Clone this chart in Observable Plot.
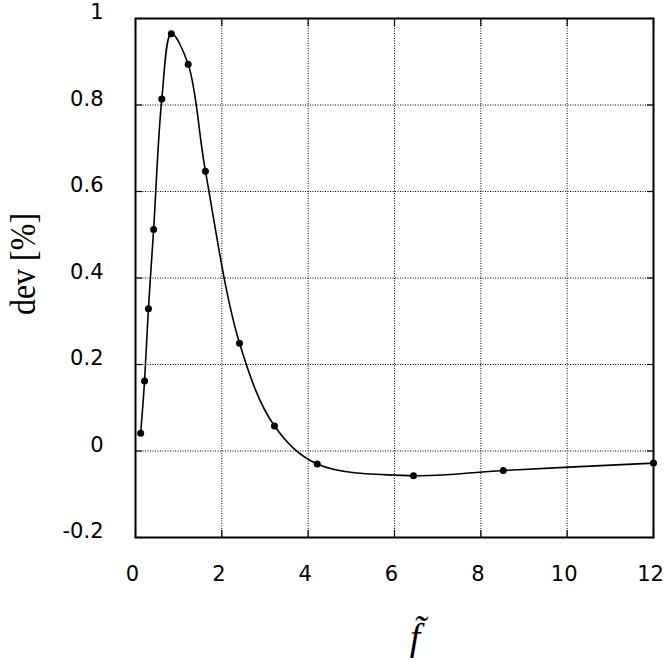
<!DOCTYPE html>
<html>
<head>
<meta charset="utf-8">
<script src="https://cdn.jsdelivr.net/npm/d3@7"></script>
<script src="https://cdn.jsdelivr.net/npm/@observablehq/plot@0.6"></script>
<style>
  html, body { margin: 0; padding: 0; background: #fff; }
  #chart { width: 664px; height: 660px; }
</style>
</head>
<body>
<div id="chart"></div>
<script>
// Data
const fVals   = [0.12, 0.21, 0.30, 0.42, 0.61, 0.83, 1.22, 1.62, 2.41, 3.22, 4.21, 6.44, 8.52, 12.0];
const devVals = [0.041, 0.162, 0.329, 0.512, 0.814, 0.965, 0.894, 0.647, 0.249, 0.058, -0.030, -0.057, -0.045, -0.028];
const xTicks = [0, 2, 4, 6, 8, 10, 12];
const yTicks = [-0.2, 0, 0.2, 0.4, 0.6, 0.8, 1];
const xGrid = [2, 4, 6, 8, 10];
const yGrid = [0, 0.2, 0.4, 0.6, 0.8];
const xLabel = "f\u0303";
const yLabel = "dev [%]";

const data = fVals.map((f, i) => ({f, dev: devVals[i]}));

const chart = Plot.plot({
  width: 664,
  height: 660,
  marginLeft: 135,
  marginRight: 11,
  marginTop: 18,
  marginBottom: 123,
  style: {fontFamily: "'DejaVu Sans', 'Liberation Sans', sans-serif", fontSize: "21px", color: "#000", background: "#fff"},
  x: {domain: [0, 12]},
  y: {domain: [-0.2, 1]},
  marks: [
    Plot.ruleX(xGrid, {stroke: "#000", strokeWidth: 1, strokeDasharray: "1,1.5"}),
    Plot.ruleY(yGrid, {stroke: "#000", strokeWidth: 1, strokeDasharray: "1,1.5"}),
    Plot.axisX({ticks: xTicks, tickSize: 0, tickPadding: 29, dx: -3, tickFormat: d => String(d), label: null}),
    Plot.axisY({ticks: yTicks, tickSize: 0, tickPadding: 32, dy: -6, tickFormat: d => String(d), label: null}),
    Plot.axisX({ticks: xTicks, anchor: "bottom", tickSize: -7, text: null, label: null, strokeWidth: 1.2}),
    Plot.axisX({ticks: xTicks, anchor: "top", tickSize: -7, text: null, label: null, strokeWidth: 1.2}),
    Plot.axisY({ticks: yTicks, anchor: "left", tickSize: -7, text: null, label: null, strokeWidth: 1.2}),
    Plot.axisY({ticks: yTicks, anchor: "right", tickSize: -7, text: null, label: null, strokeWidth: 1.2}),
    Plot.frame({stroke: "#000", strokeWidth: 2}),
    Plot.line(data, {x: "f", y: "dev", curve: "catmull-rom", stroke: "#000", strokeWidth: 1.6}),
    Plot.dot(data, {x: "f", y: "dev", r: 3.5, fill: "#000", stroke: "none"})
  ]
});

const svg = d3.select(chart);
// axis titles
svg.append("text")
  .attr("x", 415).attr("y", 650)
  .attr("text-anchor", "middle")
  .attr("font-family", "'Liberation Serif', 'DejaVu Serif', serif")
  .attr("font-style", "italic")
  .attr("font-size", 38)
  .attr("fill", "#000")
  .text(xLabel);
svg.append("text")
  .attr("transform", "translate(35,264) rotate(-90) scale(1,1.12)")
  .attr("text-anchor", "middle")
  .attr("font-family", "'Liberation Serif', 'DejaVu Serif', serif")
  .attr("font-size", 32)
  .attr("fill", "#000")
  .text(yLabel);

document.getElementById("chart").appendChild(chart);
</script>
</body>
</html>
